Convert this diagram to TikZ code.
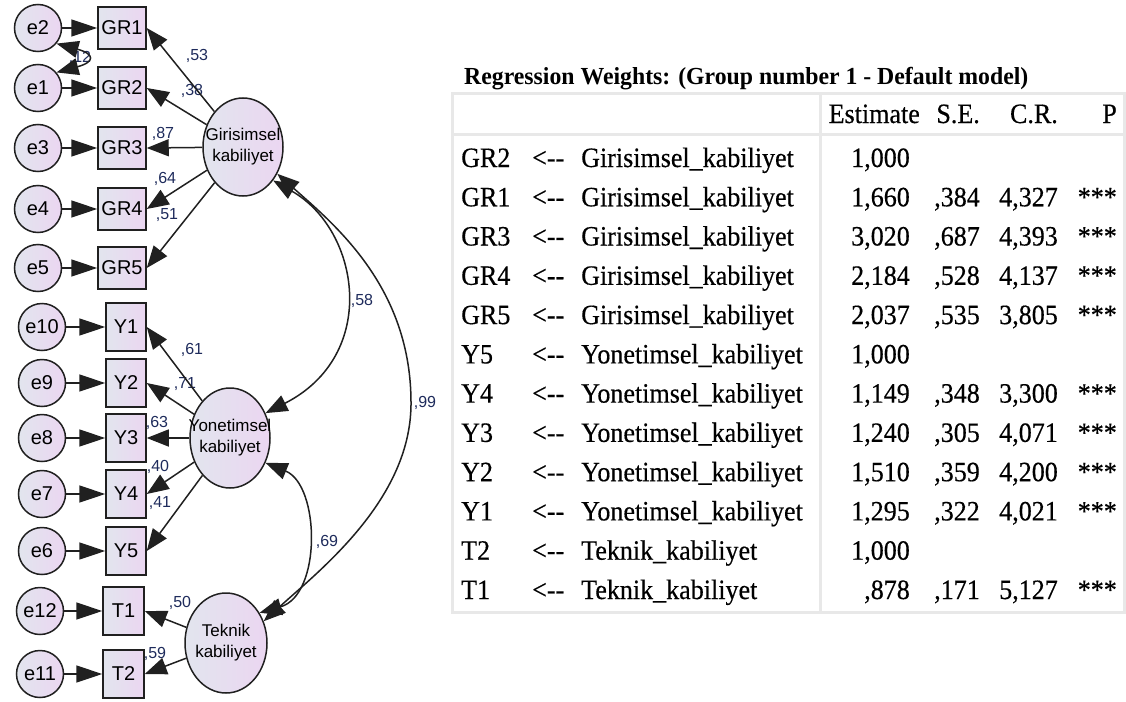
\documentclass[tikz,border=0pt]{standalone}
\usepackage{fontspec}
\setmainfont{Liberation Sans}
\newfontfamily\tabfont[FakeStretch=0.93,FakeBold=0.4]{Liberation Serif}
\newfontfamily\titlefont[FakeStretch=0.97]{Liberation Serif}
\usetikzlibrary{arrows.meta,shapes.geometric}

\definecolor{edgecol}{HTML}{202020}
\definecolor{shadeA}{HTML}{E2E5EE}
\definecolor{shadeB}{HTML}{EBD6F1}
\definecolor{coefcol}{HTML}{1E2B5C}
\definecolor{gridcol}{HTML}{E8E8E8}

\tikzset{
  shaded/.style={draw=edgecol, line width=1.5pt, inner sep=0pt,
    left color=shadeA, right color=shadeB},
  obs/.style={shaded, rectangle, font=\fontsize{20}{22}\selectfont},
  grbox/.style={obs, minimum width=48pt, minimum height=42pt},
  ybox/.style={obs, minimum width=40pt, minimum height=48pt},
  err/.style={shaded, circle, minimum size=47pt, font=\fontsize{20}{22}\selectfont},
  lat/.style={shaded, ellipse, minimum width=80pt, minimum height=98pt},
  lattext/.style={font=\fontsize{17}{21}\selectfont, align=center, inner sep=0pt},
  coef/.style={font=\fontsize{16}{17}\selectfont, text=coefcol, inner sep=0pt},
  reg/.style={draw=edgecol, line width=1.5pt, -{Triangle[length=22pt,width=17pt]}},
  errpath/.style={draw=edgecol, line width=1.5pt, -{Triangle[length=26pt,width=17pt]}},
  cov/.style={draw=edgecol, line width=1.5pt,
    {Triangle[length=22pt,width=17pt]}-{Triangle[length=22pt,width=17pt]}},
  cell/.style={font=\tabfont\fontsize{28}{30}\selectfont, inner sep=0pt},
  grid/.style={draw=gridcol, line width=3pt}
}

% one row of the regression weights table
\newcommand\regrow[8]{%
  \node[cell, anchor=base west] (#1lab) at (461,#2) {#3};
  \node[cell, anchor=base west] (#1arr) at (532,#2) {<{-}{-}};
  \node[cell, anchor=base west] (#1lat) at (581,#2) {#4};
  \node[cell, anchor=base east] (#1est) at (910,#2) {#5};
  \if\relax\detokenize{#6}\relax\else
    \node[cell, anchor=base east] (#1se) at (980,#2) {#6};
    \node[cell, anchor=base east] (#1cr) at (1058,#2) {#7};
    \node[cell, anchor=base east] (#1p) at (1117,#2) {#8};
  \fi}

\begin{document}
\begin{tikzpicture}[x=1pt,y=-1pt]
\fill[white] (0,0) rectangle (1126,701);
\useasboundingbox (0,0) rectangle (1126,701);

% ---- latent variables ----
\node[lat, label={[lattext]center:Girisimsel\\kabiliyet}] (G) at (243,147) {};
\node[lat, minimum height=100pt, label={[lattext]center:Yonetimsel\\kabiliyet}] (Y) at (230,438) {};
\node[lat, minimum width=82pt, minimum height=100pt, label={[lattext]center:Teknik\\kabiliyet}] (T) at (226,643) {};

% ---- observed indicators ----
\node[grbox] (GR1) at (122,28) {GR1};
\node[grbox] (GR2) at (122,88) {GR2};
\node[grbox] (GR3) at (122,148) {GR3};
\node[grbox] (GR4) at (122,209) {GR4};
\node[grbox] (GR5) at (122,268) {GR5};
\node[ybox] (Y1) at (126,327) {Y1};
\node[ybox] (Y2) at (126,383) {Y2};
\node[ybox] (Y3) at (126,438) {Y3};
\node[ybox] (Y4) at (126,494) {Y4};
\node[ybox] (Y5) at (126,551) {Y5};
\node[ybox, minimum width=41pt] (T1) at (123.5,611) {T1};
\node[ybox, minimum width=41pt] (T2) at (123.5,674) {T2};

% ---- error terms ----
\node[err] (e2) at (38,28) {e2};
\node[err] (e1) at (38,88) {e1};
\node[err] (e3) at (38,148) {e3};
\node[err] (e4) at (38,209) {e4};
\node[err] (e5) at (38,268) {e5};
\node[err] (e10) at (42,327) {e10};
\node[err] (e9) at (42,383) {e9};
\node[err] (e8) at (42,438) {e8};
\node[err] (e7) at (42,494) {e7};
\node[err] (e6) at (42,551) {e6};
\node[err] (e12) at (40,611) {e12};
\node[err] (e11) at (40,674) {e11};

% ---- standardized estimates ----
\node[coef] (c12) at (80,58) {,12};
\node[coef] (c53) at (197,56) {,53};
\node[coef] (c38) at (192,91) {,38};
\node[coef] (c87) at (163,134) {,87};
\node[coef] (c64) at (165,179) {,64};
\node[coef] (c51) at (167,215) {,51};
\node[coef] (c61) at (192,350) {,61};
\node[coef] (c71) at (185,384) {,71};
\node[coef] (c63) at (157,423) {,63};
\node[coef] (c40) at (158,467) {,40};
\node[coef] (c41) at (160,503) {,41};
\node[coef] (c50) at (180,603) {,50};
\node[coef] (c59) at (155,654) {,59};
\node[coef] (c58) at (362,301) {,58};
\node[coef] (c99) at (425,403) {,99};
\node[coef] (c69) at (327,542) {,69};

% ---- error paths ----
\foreach \e/\o in {e2/GR1,e1/GR2,e3/GR3,e4/GR4,e5/GR5,e10/Y1,e9/Y2,e8/Y3,e7/Y4,e6/Y5,e12/T1,e11/T2}
  \draw[errpath] (\e) -- (\o);

% ---- factor loadings ----
\foreach \o in {GR1,GR2,GR3,GR4,GR5} \draw[reg] (G) -- (\o.east);
\foreach \o in {Y1,Y2,Y3,Y4,Y5} \draw[reg] (Y) -- (\o.east);
\foreach \o in {T1,T2} \draw[reg] (T) -- (\o.east);

% ---- covariances ----
\draw[cov] (e2.-40) .. controls (95,54) and (95,62) .. (e1.40);
\draw[cov] (G.-48) .. controls (360,230) and (380,355) .. (Y.35);
\draw[cov] (G.-38) .. controls (335,225) and (412,288) .. (411,405)
                   .. controls (410,500) and (320,570) .. (T.30);
\draw[cov] (Y.-35) .. controls (320,485) and (322,595) .. (T.42);

% ---- regression weights table ----
\node[anchor=base west, inner sep=0pt, font=\titlefont\bfseries\fontsize{24.5}{26}\selectfont] (title) at (464,84)
  {Regression Weights: (Group number 1 - Default model)};
\draw[grid] (452,93) rectangle (1124,612);
\draw[grid] (820,93) -- (820,612);
\draw[grid] (452,134) -- (1124,134);

\node[cell, anchor=base east] (hest) at (920,123) {Estimate};
\node[cell, anchor=base east] (hse) at (980,123) {S.E.};
\node[cell, anchor=base east] (hcr) at (1058,123) {C.R.};
\node[cell, anchor=base east] (hp) at (1117,123) {P};

\regrow{ra}{167.0}{GR2}{Girisimsel\_kabiliyet}{1,000}{}{}{}
\regrow{rb}{206.3}{GR1}{Girisimsel\_kabiliyet}{1,660}{,384}{4,327}{***}
\regrow{rc}{245.5}{GR3}{Girisimsel\_kabiliyet}{3,020}{,687}{4,393}{***}
\regrow{rd}{284.8}{GR4}{Girisimsel\_kabiliyet}{2,184}{,528}{4,137}{***}
\regrow{re}{324.1}{GR5}{Girisimsel\_kabiliyet}{2,037}{,535}{3,805}{***}
\regrow{rf}{363.4}{Y5}{Yonetimsel\_kabiliyet}{1,000}{}{}{}
\regrow{rg}{402.6}{Y4}{Yonetimsel\_kabiliyet}{1,149}{,348}{3,300}{***}
\regrow{rh}{441.9}{Y3}{Yonetimsel\_kabiliyet}{1,240}{,305}{4,071}{***}
\regrow{ri}{481.2}{Y2}{Yonetimsel\_kabiliyet}{1,510}{,359}{4,200}{***}
\regrow{rj}{520.4}{Y1}{Yonetimsel\_kabiliyet}{1,295}{,322}{4,021}{***}
\regrow{rk}{559.7}{T2}{Teknik\_kabiliyet}{1,000}{}{}{}
\regrow{rl}{599.0}{T1}{Teknik\_kabiliyet}{,878}{,171}{5,127}{***}
\end{tikzpicture}
\end{document}
